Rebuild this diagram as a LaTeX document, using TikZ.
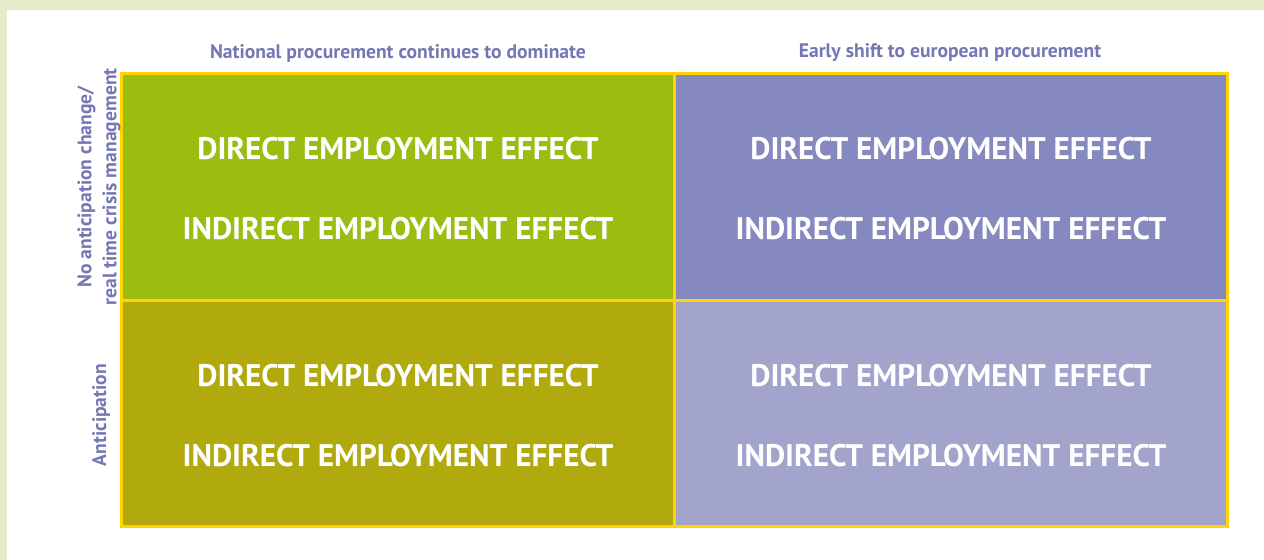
\documentclass[tikz,border=0pt]{standalone}
\usepackage{fontspec}
\setmainfont{PT Sans}
\usepackage{xcolor}

\definecolor{frameGreen}{RGB}{229,235,200}
\definecolor{limeCell}{RGB}{155,189,16}
\definecolor{oliveCell}{RGB}{176,170,14}
\definecolor{violetCell}{RGB}{133,137,192}
\definecolor{lilacCell}{RGB}{162,164,204}
\definecolor{gridYellow}{RGB}{255,212,0}
\definecolor{labelBlue}{RGB}{117,119,181}

\tikzset{
  effect/.style={text=white, font=\bfseries\fontsize{15.6}{18}\selectfont},
  head/.style={text=labelBlue, font=\bfseries\fontsize{9.8}{12.5}\selectfont},
  side/.style={head, rotate=90, align=center},
  cell/.style={draw=gridYellow, line width=1.5pt}
}

\begin{document}
\begin{tikzpicture}[x=0.5pt,y=0.5pt,yscale=-1,xscale=1]
% page and white panel
\fill [frameGreen] (0,0) rectangle (1264,560);
\fill [white] (7,10) rectangle (1264,560);

%Shape: cells of the grid
\draw [cell, fill=limeCell] (121,74) rectangle (674,301);
\draw [cell, fill=violetCell] (674,74) rectangle (1227,301);
\draw [cell, fill=oliveCell] (121,301) rectangle (674,527);
\draw [cell, fill=lilacCell] (674,301) rectangle (1227,527);

% Column heads
\node [head] (natHead) at (398,53) {National procurement continues to dominate};
\node [head] (eurHead) at (950,53) {Early shift to european procurement};

% Row heads
\node [side] (noAnt) at (99,187) {No anticipation change/\\real time crisis management};
\node [side] (ant) at (101,415) {Anticipation};

% Text Node
\node [effect] (dirTL) at (398,149) {DIRECT EMPLOYMENT EFFECT};
\node [effect] (indTL) at (398,229) {INDIRECT EMPLOYMENT EFFECT};
\node [effect] (dirTR) at (951,149) {DIRECT EMPLOYMENT EFFECT};
\node [effect] (indTR) at (951,229) {INDIRECT EMPLOYMENT EFFECT};
\node [effect] (dirBL) at (398,376) {DIRECT EMPLOYMENT EFFECT};
\node [effect] (indBL) at (398,456) {INDIRECT EMPLOYMENT EFFECT};
\node [effect] (dirBR) at (951,376) {DIRECT EMPLOYMENT EFFECT};
\node [effect] (indBR) at (951,456) {INDIRECT EMPLOYMENT EFFECT};

\end{tikzpicture}
\end{document}
